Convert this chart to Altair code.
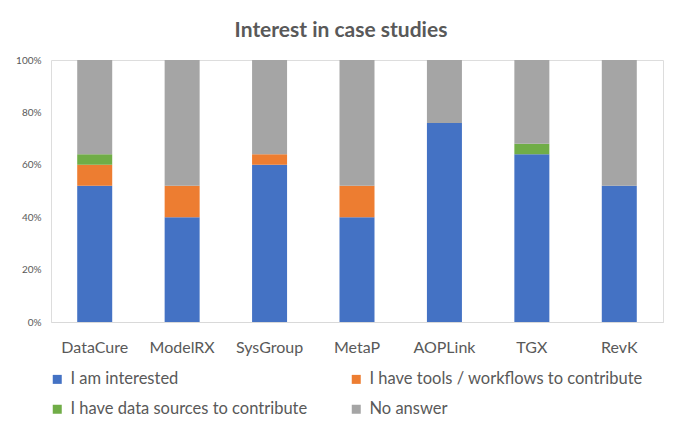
import altair as alt
import pandas as pd

categories = ["DataCure", "ModelRX", "SysGroup", "MetaP", "AOPLink", "TGX", "RevK"]
series = ["I am interested", "I have tools / workflows to contribute",
          "I have data sources to contribute", "No answer"]
colors = ["#4472C4", "#ED7D31", "#70AD47", "#A5A5A5"]

interested = [52, 40, 60, 40, 76, 64, 52]
tools = [8, 12, 4, 12, 0, 0, 0]
data_sources = [4, 0, 0, 0, 0, 4, 0]
no_answer = [36, 48, 36, 48, 24, 32, 48]

rows = []
for i, c in enumerate(categories):
    for k, (s, vals) in enumerate(zip(series, [interested, tools, data_sources, no_answer])):
        rows.append({"case": c, "series": s, "value": vals[i], "order": k})
df = pd.DataFrame(rows)

FONT = "Lato"

chart = alt.Chart(df).mark_bar(size=35).encode(
    x=alt.X("case:N", sort=categories, title=None,
            axis=alt.Axis(labelAngle=0, labelFontSize=16, labelColor="#595959",
                          labelFont=FONT, labelPadding=17, ticks=False,
                          domainColor="#D9D9D9", domainWidth=1)),
    y=alt.Y("value:Q", stack="normalize", title=None,
            scale=alt.Scale(domain=[0, 1]),
            axis=alt.Axis(format=".0%", values=[0, 0.2, 0.4, 0.6, 0.8, 1.0],
                          labelFontSize=10, labelColor="#595959", labelFont=FONT,
                          grid=False, domain=False, ticks=False, labelPadding=10)),
    color=alt.Color("series:N", sort=series,
                    scale=alt.Scale(domain=series, range=colors),
                    legend=alt.Legend(title=None, orient="none", legendX=-2, legendY=311,
                                      values=series, direction="horizontal",
                                      columns=2, columnPadding=40, rowPadding=13,
                                      symbolType="square", symbolSize=81,
                                      symbolStrokeWidth=0, labelFontSize=16.5,
                                      labelFont=FONT, labelColor="#595959",
                                      labelLimit=400, symbolOffset=0, labelOffset=5)),
    order=alt.Order("order:Q", sort="ascending"),
).properties(
    width=612, height=262,
    padding={"left": 43, "top": 52, "right": 2, "bottom": 100},
    autosize=alt.AutoSizeParams(type="none"),
    title=alt.TitleParams("Interest in case studies", fontSize=21, font=FONT,
                          fontWeight="bold", color="#595959", anchor="middle",
                          dx=-16, offset=14),
).configure_view(stroke=None).configure(background="white")

chart.save("out.html", embed_options={"renderer": "svg", "actions": False})
